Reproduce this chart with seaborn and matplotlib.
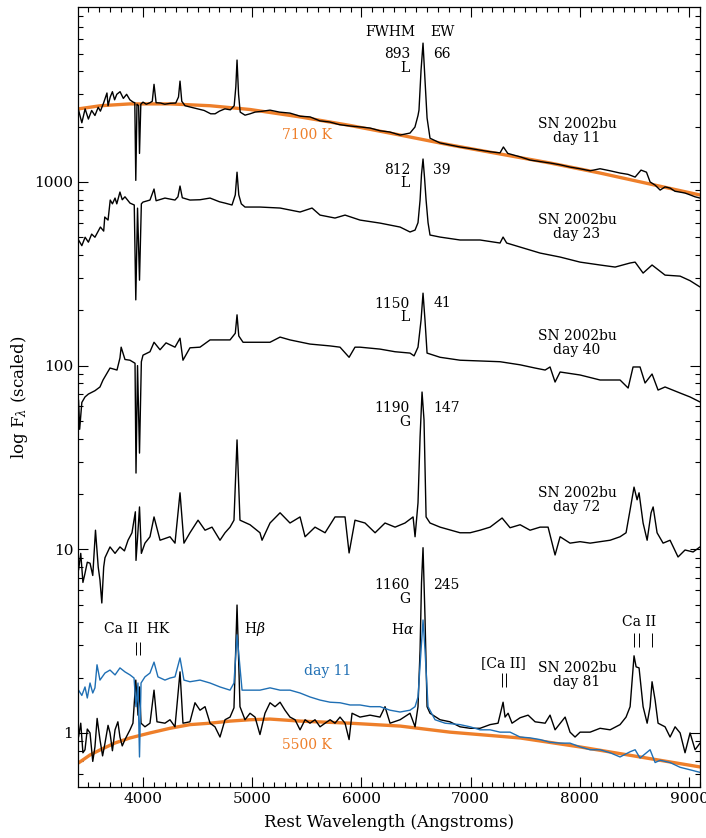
import numpy as np
import pandas as pd
import seaborn as sns
import matplotlib.pyplot as plt
from matplotlib.ticker import FixedLocator, MultipleLocator, FuncFormatter, LogLocator, NullFormatter

# ---- spectra (wavelength in Angstrom, scaled flux) ----
w11 = [3410, 3440, 3470, 3500, 3530, 3560, 3590, 3610, 3640, 3670, 3680, 3700, 3720, 3740, 3760,
       3790, 3820, 3850, 3880, 3910, 3925, 3934, 3945, 3960, 3968, 3980, 4000, 4030, 4064, 4085,
       4101, 4120, 4160, 4200, 4250, 4300, 4325, 4339, 4355, 4385, 4430, 4500, 4560, 4620, 4660,
       4700, 4750, 4800, 4835, 4850, 4861, 4875, 4890, 4934, 4980, 5026, 5100, 5163, 5250, 5346,
       5440, 5530, 5620, 5710, 5800, 5900, 6000, 6080, 6170, 6260, 6354, 6445, 6490, 6518, 6527,
       6546, 6564, 6582, 6601, 6628, 6720, 6810, 6903, 7000, 7086, 7180, 7269, 7300, 7340, 7453,
       7544, 7640, 7727, 7820, 7910, 8000, 8094, 8185, 8277, 8368, 8440, 8506, 8560, 8610, 8643,
       8690, 8735, 8780, 8826, 8870, 8918, 8963, 9010, 9055, 9100]
f11 = [2460, 2100, 2500, 2200, 2450, 2300, 2550, 2430, 2700, 3050, 2600, 2900, 3100, 2800, 3000,
       3100, 2850, 3000, 2800, 2720, 2700, 1020, 2650, 2600, 1430, 2650, 2720, 2650, 2700, 2750,
       3400, 2700, 2690, 2650, 2680, 2690, 2900, 3540, 2750, 2600, 2560, 2500, 2450, 2350, 2350,
       2430, 2500, 2470, 2600, 3300, 4610, 3000, 2400, 2310, 2350, 2400, 2430, 2460, 2400, 2370,
       2280, 2260, 2150, 2120, 2050, 2015, 1990, 1965, 1900, 1870, 1800, 1846, 1990, 2300, 2460,
       4070, 5700, 3590, 2230, 1730, 1630, 1590, 1550, 1520, 1490, 1460, 1440, 1550, 1430, 1370,
       1316, 1290, 1268, 1240, 1205, 1180, 1150, 1180, 1150, 1118, 1100, 1063, 1160, 1130, 1000,
       960, 903, 940, 926, 890, 880, 870, 850, 830, 817]

w23 = [3410, 3440, 3470, 3500, 3530, 3560, 3610, 3640, 3650, 3680, 3700, 3720, 3744, 3760, 3789,
       3810, 3835, 3881, 3920, 3934, 3950, 3968, 3985, 4000, 4064, 4101, 4120, 4201, 4293, 4320,
       4339, 4360, 4430, 4522, 4614, 4700, 4751, 4815, 4845, 4861, 4877, 4900, 4934, 5071, 5255,
       5438, 5548, 5621, 5758, 5850, 5987, 6170, 6354, 6445, 6491, 6518, 6537, 6550, 6564, 6578,
       6592, 6610, 6628, 6720, 6903, 7086, 7269, 7297, 7330, 7453, 7636, 7819, 8002, 8185, 8323,
       8460, 8506, 8579, 8661, 8780, 8918, 9009, 9100]
f23 = [483, 450, 500, 470, 520, 500, 568, 540, 644, 620, 797, 760, 817, 760, 881,
       800, 830, 767, 749, 228, 720, 292, 760, 777, 797, 915, 790, 817, 797, 830,
       950, 820, 797, 800, 817, 780, 767, 749, 850, 1130, 850, 760, 730, 730, 721,
       686, 721, 660, 636, 660, 620, 597, 568, 534, 547, 600, 797, 1100, 1333, 1050,
       797, 600, 514, 501, 483, 483, 465, 501, 465, 442, 410, 390, 366, 353, 344,
       362, 366, 319, 353, 311, 307, 290, 268]

w40 = [3410, 3420, 3440, 3469, 3500, 3560, 3606, 3634, 3698, 3762, 3789, 3800, 3835, 3881, 3927,
       3936, 3950, 3968, 3985, 4000, 4064, 4101, 4156, 4211, 4293, 4339, 4366, 4430, 4522, 4614,
       4705, 4797, 4845, 4861, 4877, 4916, 5026, 5163, 5255, 5346, 5529, 5713, 5804, 5887, 5941,
       5987, 6170, 6308, 6445, 6482, 6518, 6546, 6564, 6582, 6601, 6720, 6903, 7086, 7269, 7453,
       7590, 7682, 7727, 7773, 7819, 8002, 8185, 8368, 8442, 8487, 8551, 8597, 8661, 8716, 8780,
       8918, 9009, 9100]
f40 = [65.0, 45.0, 63.0, 67.5, 70.0, 73.0, 76.5, 83.5, 97.0, 94.6, 110, 126, 108, 107, 103,
       26.0, 100, 33.4, 105, 114, 119, 134, 122, 133, 126, 141, 107, 125, 126, 138,
       138, 138, 150, 189, 145, 134, 134, 134, 143, 138, 131, 128, 126, 111, 126,
       126, 123, 119, 117, 113, 126, 177, 248, 177, 117, 111, 107, 106, 105, 101,
       97.0, 94.6, 98.3, 81.4, 92.3, 88.9, 83.5, 83.5, 75.5, 98.3, 98.3, 80.4, 90.0, 73.6, 76.5,
       70.9, 67.5, 63.4]

w72 = [3410, 3430, 3450, 3469, 3490, 3515, 3540, 3565, 3590, 3606, 3623, 3640, 3652, 3698, 3744,
       3789, 3830, 3863, 3899, 3930, 3936, 3950, 3968, 3985, 4018, 4064, 4101, 4156, 4247, 4293,
       4339, 4375, 4430, 4504, 4568, 4632, 4705, 4751, 4797, 4833, 4861, 4888, 4980, 5071, 5090,
       5163, 5255, 5346, 5438, 5484, 5575, 5667, 5758, 5850, 5887, 5941, 6033, 6125, 6216, 6308,
       6399, 6473, 6491, 6518, 6537, 6555, 6573, 6592, 6628, 6720, 6903, 6995, 7086, 7178, 7288,
       7361, 7453, 7544, 7636, 7709, 7773, 7819, 7910, 8002, 8094, 8185, 8277, 8368, 8423, 8460,
       8496, 8524, 8542, 8579, 8616, 8652, 8671, 8707, 8762, 8826, 8899, 8963, 9037, 9100]
f72 = [7.7, 9.5, 6.6, 7.4, 8.5, 8.4, 7.2, 12.7, 8.0, 6.8, 5.1, 8.0, 9.0, 10.3, 9.5,
       10.3, 9.8, 11.2, 12.3, 16.0, 8.7, 11.5, 17.0, 9.5, 10.8, 11.7, 15.0, 11.2, 11.7, 10.8,
       20.3, 10.8, 12.3, 14.4, 12.7, 13.2, 11.2, 12.3, 13.2, 14.4, 39.4, 14.4, 13.6, 12.3, 11.2,
       13.9, 15.8, 13.9, 15.0, 11.7, 13.2, 12.3, 15.0, 15.0, 9.55, 14.4, 13.9, 12.3, 13.9, 13.2,
       13.9, 15.0, 11.7, 17.9, 40.9, 71.8, 50.6, 15.0, 13.9, 13.2, 12.3, 12.3, 12.7, 13.2, 14.8,
       13.1, 13.6, 12.7, 13.2, 13.2, 9.31, 11.7, 10.8, 11.0, 10.8, 11.0, 11.2, 11.7, 12.3, 16.4,
       21.8, 18.6, 20.3, 13.9, 11.2, 15.8, 17.0, 12.3, 10.8, 11.2, 9.08, 9.91, 9.67, 10.3]

w81 = [3410, 3430, 3450, 3469, 3490, 3515, 3540, 3560, 3580, 3606, 3630, 3652, 3680, 3698, 3720,
       3744, 3770, 3789, 3810, 3835, 3881, 3908, 3934, 3954, 3968, 3982, 4018, 4064, 4101, 4128,
       4201, 4247, 4293, 4339, 4366, 4430, 4476, 4522, 4568, 4614, 4659, 4705, 4751, 4797, 4833,
       4861, 4888, 4934, 4980, 5026, 5071, 5117, 5163, 5209, 5255, 5300, 5346, 5392, 5438, 5484,
       5529, 5575, 5621, 5667, 5713, 5758, 5804, 5850, 5887, 5914, 5987, 6079, 6170, 6216, 6262,
       6354, 6445, 6491, 6518, 6537, 6550, 6564, 6582, 6601, 6628, 6720, 6811, 6903, 6995, 7086,
       7178, 7251, 7297, 7315, 7343, 7379, 7453, 7526, 7590, 7682, 7727, 7773, 7865, 7910, 7956,
       8002, 8094, 8185, 8277, 8368, 8423, 8460, 8496, 8515, 8542, 8579, 8616, 8643, 8661, 8689,
       8716, 8780, 8826, 8872, 8918, 8963, 9009, 9055, 9100]
f81 = [0.95, 1.13, 0.78, 0.81, 1.05, 1.00, 0.70, 0.84, 1.20, 0.92, 0.75, 0.88, 1.10, 1.00, 0.80,
       1.04, 1.15, 0.95, 0.85, 0.92, 1.04, 1.13, 1.94, 1.25, 1.78, 1.13, 1.08, 1.13, 1.71, 1.15,
       1.13, 1.18, 1.08, 2.15, 1.13, 1.15, 1.46, 1.33, 1.39, 1.13, 1.08, 0.95, 1.18, 1.22, 1.37,
       4.97, 1.39, 1.18, 1.28, 1.22, 0.98, 1.28, 1.46, 1.39, 1.47, 1.33, 1.22, 1.18, 1.04, 1.18,
       1.13, 1.18, 1.08, 1.13, 1.18, 1.13, 1.22, 1.13, 0.92, 1.28, 1.22, 1.25, 1.22, 1.39, 1.13,
       1.18, 1.28, 1.08, 1.39, 2.83, 6.55, 10.2, 4.28, 1.39, 1.28, 1.18, 1.15, 1.08, 1.06, 1.06,
       1.11, 1.13, 1.47, 1.22, 1.28, 1.13, 1.21, 1.25, 1.15, 1.13, 1.25, 1.04, 1.22, 1.01, 0.95,
       1.01, 1.01, 1.06, 1.04, 1.11, 1.22, 1.39, 2.63, 2.29, 2.26, 1.39, 1.13, 1.39, 1.90, 1.51,
       1.13, 1.08, 0.95, 1.08, 1.00, 0.78, 1.00, 0.81, 0.88]

# day 11 spectrum rescaled onto the day 81 one (blue)
wb = [3410, 3440, 3469, 3490, 3515, 3540, 3560, 3579, 3606, 3652, 3698, 3744, 3789, 3835, 3881,
      3918, 3936, 3954, 3968, 3982, 4018, 4064, 4101, 4137, 4201, 4247, 4293, 4339, 4375, 4430,
      4522, 4614, 4705, 4797, 4833, 4861, 4907, 4980, 5071, 5163, 5255, 5346, 5438, 5529, 5621,
      5713, 5804, 5896, 5987, 6079, 6170, 6262, 6354, 6445, 6491, 6518, 6546, 6564, 6582, 6610,
      6674, 6766, 6903, 6995, 7086, 7178, 7269, 7361, 7453, 7544, 7636, 7727, 7819, 7910, 8002,
      8094, 8185, 8277, 8368, 8460, 8506, 8551, 8643, 8689, 8735, 8826, 8918, 9009, 9100]
fb = [1.71, 1.60, 1.78, 1.55, 1.87, 1.65, 1.76, 2.35, 1.94, 2.12, 2.20, 2.07, 2.26, 2.15, 2.07,
      1.99, 1.39, 1.87, 0.74, 1.87, 2.02, 2.12, 2.43, 2.02, 1.94, 1.99, 2.02, 2.56, 1.94, 1.90,
      1.94, 1.87, 1.78, 1.71, 1.87, 3.42, 1.71, 1.71, 1.71, 1.76, 1.71, 1.71, 1.65, 1.57, 1.51,
      1.47, 1.46, 1.42, 1.42, 1.39, 1.39, 1.33, 1.30, 1.33, 1.39, 1.57, 2.83, 4.12, 2.83, 1.39,
      1.18, 1.13, 1.11, 1.08, 1.04, 1.04, 1.01, 1.01, 0.95, 0.94, 0.92, 0.89, 0.88, 0.88, 0.84,
      0.81, 0.81, 0.78, 0.74, 0.79, 0.81, 0.73, 0.81, 0.69, 0.71, 0.69, 0.65, 0.63, 0.61]

# blackbody curves
wbb7100 = [3410, 3610, 3880, 4250, 4614, 4980, 5438, 5896, 6354, 6811, 7269, 7727, 8185, 8643, 9100]
fbb7100 = [2500, 2600, 2660, 2660, 2600, 2480, 2260, 2030, 1800, 1590, 1420, 1268, 1118, 974, 849]
wbb5500 = [3410, 3515, 3606, 3744, 3881, 4064, 4247, 4430, 4614, 4797, 4980, 5163, 5438, 5896,
           6354, 6811, 7453, 8002, 8551, 9100]
fbb5500 = [0.687, 0.759, 0.808, 0.882, 0.939, 1.00, 1.06, 1.11, 1.13, 1.16, 1.18, 1.19, 1.16, 1.13,
           1.09, 1.01, 0.939, 0.839, 0.740, 0.653]

# line annotations
fwhm_vals = ["893\nL", "812\nL", "1150\nL", "1190\nG", "1160\nG"]
fwhm_y = [4550, 1070, 199.5, 53.8, 5.86]
ew_vals = ["66", "39", "41", "147", "245"]
ew_y = [4970, 1161, 219, 58.8, 6.40]
days = ["11", "23", "40", "72", "81"]
day_y = [1893, 568, 132.7, 18.6, 2.07]

orange = "#EE7F2A"
blue = "#1F6FB4"

sns.set_theme(style="ticks")
plt.rcParams['font.family'] = ['DejaVu Serif']
plt.rcParams['mathtext.fontset'] = 'dejavuserif'
plt.rcParams.update({'text.color': 'black', 'axes.labelcolor': 'black',
                     'xtick.color': 'black', 'ytick.color': 'black'})

fig = plt.figure(figsize=(7.06, 8.38), dpi=100)
ax = fig.add_axes([0.1105, 0.0609, 0.881, 0.9307])
ax.set_yscale('log')

sns.lineplot(x=wbb7100, y=fbb7100, ax=ax, color=orange, lw=2.4, estimator=None, sort=False)
sns.lineplot(x=wbb5500, y=fbb5500, ax=ax, color=orange, lw=2.4, estimator=None, sort=False)
for w, f in [(w11, f11), (w23, f23), (w40, f40), (w72, f72), (w81, f81)]:
    sns.lineplot(x=w, y=f, ax=ax, color='black', lw=1.0, estimator=None, sort=False)
sns.lineplot(x=wb, y=fb, ax=ax, color=blue, lw=1.0, estimator=None, sort=False)

ax.set_xlim(3405, 9100)
ax.set_ylim(0.508, 8960)

fs = 10
ax.text(6262, 6546, "FWHM", ha='center', va='center', fontsize=fs)
ax.text(6738, 6546, "EW", ha='center', va='center', fontsize=fs)
for t, y in zip(fwhm_vals, fwhm_y):
    ax.text(6445, y, t, ha='right', va='center', fontsize=fs, linespacing=0.95, multialignment='right')
for e, y in zip(ew_vals, ew_y):
    ax.text(6656, y, e, ha='left', va='center', fontsize=fs)
for d, y in zip(days, day_y):
    ax.text(7974, y, "SN 2002bu\nday " + d, ha='center', va='center', fontsize=fs, linespacing=0.95)

ax.text(5502, 1800, "7100 K", color=orange, ha='center', va='center', fontsize=fs)
ax.text(5502, 0.86, "5500 K", color=orange, ha='center', va='center', fontsize=fs)
ax.text(5694, 2.18, "day 11", color=blue, ha='center', va='center', fontsize=fs)

ax.text(3945, 3.68, "Ca II  HK", ha='center', va='center', fontsize=fs)
ax.vlines([3934, 3968], 2.66, 3.13, color='black', lw=0.7)
ax.text(4925, 3.68, r"H$\beta$", ha='left', va='center', fontsize=fs)
ax.text(6482, 3.68, r"H$\alpha$", ha='right', va='center', fontsize=fs)
ax.text(7297, 2.40, "[Ca II]", ha='center', va='center', fontsize=fs)
ax.vlines([7291, 7324], 1.78, 2.12, color='black', lw=0.7)
ax.text(8542, 4.02, "Ca II", ha='center', va='center', fontsize=fs)
ax.vlines([8498, 8542, 8662], 2.94, 3.50, color='black', lw=0.7)

# ticks
ax.xaxis.set_major_locator(FixedLocator([4000, 5000, 6000, 7000, 8000, 9000]))
ax.xaxis.set_minor_locator(MultipleLocator(100))
ax.yaxis.set_major_locator(FixedLocator([1, 10, 100, 1000]))
ax.yaxis.set_minor_locator(LogLocator(base=10, subs=np.arange(2, 10)))
ax.yaxis.set_major_formatter(FuncFormatter(lambda v, p: "%d" % round(v)))
ax.yaxis.set_minor_formatter(NullFormatter())
ax.tick_params(which='both', direction='in', top=True, right=True, width=0.8, labelsize=11)
ax.tick_params(which='major', length=7)
ax.tick_params(which='minor', length=3.5)
for s in ax.spines.values():
    s.set_linewidth(0.9)
    s.set_color('black')

ax.set_xlabel("Rest Wavelength (Angstroms)", fontsize=12, labelpad=6)
ax.set_ylabel(r"log F$_\lambda$ (scaled)", fontsize=12, labelpad=3)

fig.savefig("out.png", dpi=100)
